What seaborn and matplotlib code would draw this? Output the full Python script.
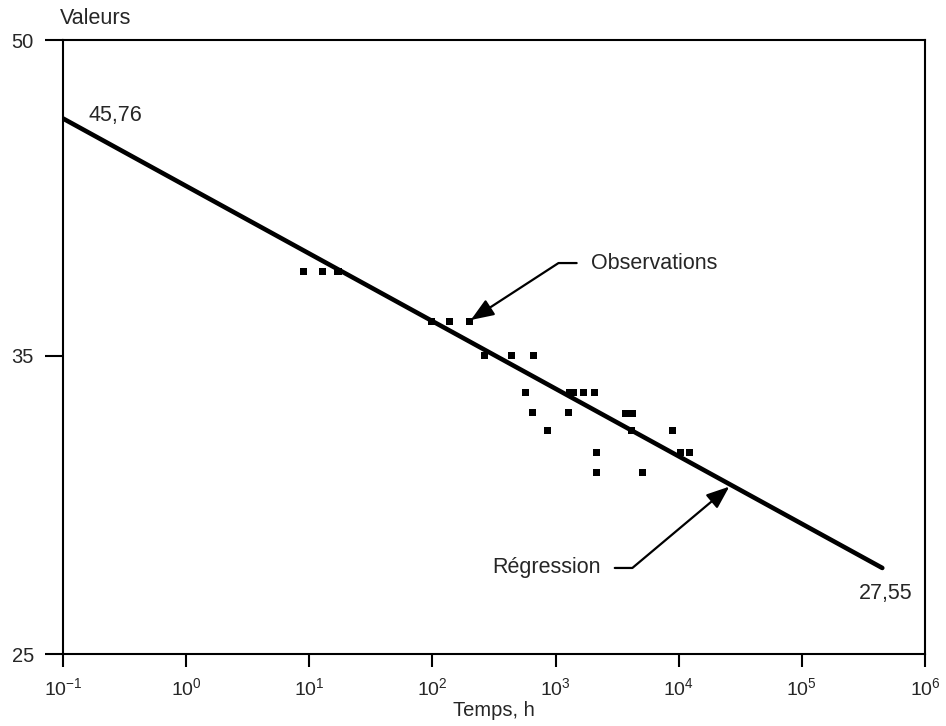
import numpy as np
import pandas as pd
import seaborn as sns
import matplotlib.pyplot as plt
from matplotlib.ticker import FixedLocator, FixedFormatter, LogFormatterMathtext, NullLocator

# observations (temps en heures, valeurs)
obs_temps = [8.9, 12.7, 17.1, 99, 137, 199, 263, 440, 663, 567, 1294, 1403, 1680, 2064,
             650, 1269, 3670, 4190, 862, 4110, 8850, 2160, 10300, 12200, 2160, 5120]
obs_valeurs = [38.5, 38.5, 38.5, 36.4, 36.4, 36.4, 35.0, 35.0, 35.0, 33.6, 33.6, 33.6, 33.6, 33.6,
               32.85, 32.85, 32.8, 32.8, 32.16, 32.16, 32.16, 31.4, 31.4, 31.4, 30.7, 30.7]

# droite de regression (extremites)
reg_temps = [0.1, 4.5e5]
reg_valeurs = [45.76, 27.55]

x_ticks = [0.1, 1, 10, 100, 1e3, 1e4, 1e5, 1e6]
y_ticks = [25, 35, 50]
y_labels = ['25', '35', '50']

sns.set_style('ticks')
plt.rcParams['font.family'] = ['Liberation Sans', 'DejaVu Sans']
plt.rcParams['mathtext.fontset'] = 'custom'
plt.rcParams['mathtext.rm'] = 'Liberation Sans'
plt.rcParams['mathtext.it'] = 'Liberation Sans'
plt.rcParams['axes.unicode_minus'] = False

fig = plt.figure(figsize=(9.46, 7.26), dpi=100)
ax = fig.add_axes([63 / 946, 1 - 654 / 726, 862 / 946, 614 / 726])

obs = pd.DataFrame({'temps': obs_temps, 'valeurs': obs_valeurs})
reg = pd.DataFrame({'temps': reg_temps, 'valeurs': reg_valeurs})

sns.lineplot(data=reg, x='temps', y='valeurs', color='black', linewidth=3.3, ax=ax)
sns.scatterplot(data=obs, x='temps', y='valeurs', marker='s', s=26, color='black',
                edgecolor='none', ax=ax)

ax.set_xscale('log')
ax.set_yscale('log')
ax.set_xlim(0.1, 1e6)
ax.set_ylim(25, 50)
ax.xaxis.set_major_locator(FixedLocator(x_ticks))
ax.xaxis.set_major_formatter(LogFormatterMathtext())
ax.xaxis.set_minor_locator(NullLocator())
ax.yaxis.set_major_locator(FixedLocator(y_ticks))
ax.yaxis.set_major_formatter(FixedFormatter(y_labels))
ax.yaxis.set_minor_locator(NullLocator())

for sp in ax.spines.values():
    sp.set_linewidth(1.5)
    sp.set_color('black')
ax.tick_params(axis='x', length=9, width=1.5, labelsize=14, pad=8, color='black')
ax.tick_params(axis='y', length=13, width=1.5, labelsize=14.5, pad=8, color='black')
ax.set_xlabel('Temps, h', fontsize=14.5, labelpad=1)
ax.set_ylabel('')
fig.text(60 / 946, 1 - 18 / 726, 'Valeurs', fontsize=15.5, va='center', ha='left')

ax.text(0.16, 45.94, '45,76', fontsize=15.5, va='center', ha='left')
ax.text(2.89e5, 26.78, '27,55', fontsize=15.5, va='center', ha='left')

arrow = dict(arrowstyle='-|>,head_length=0.9,head_width=0.35', color='black', lw=1.6,
             shrinkA=8, shrinkB=0)
ax.annotate('Observations', xy=(205, 36.45), xytext=(1941, 38.87), fontsize=15.5,
            ha='left', va='center',
            arrowprops=dict(arrow, relpos=(0, 0.5),
                            connectionstyle='angle,angleA=0,angleB=33,rad=0'))
ax.annotate('Régression', xy=(25760, 30.2), xytext=(304, 27.55), fontsize=15.5,
            ha='left', va='center',
            arrowprops=dict(arrow, relpos=(1, 0.5),
                            connectionstyle='angle,angleA=0,angleB=40,rad=0'))

fig.savefig('out.png', dpi=100)
